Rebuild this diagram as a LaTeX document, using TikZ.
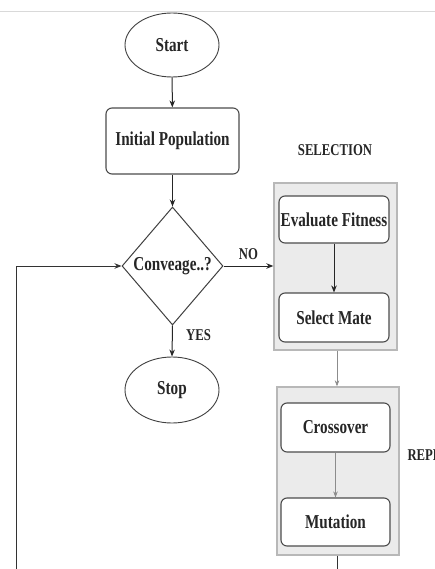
\documentclass[tikz,border=0pt]{standalone}
\usepackage{fontspec}
\setmainfont{Liberation Serif}[FakeStretch=0.77]
\usetikzlibrary{shapes.geometric,arrows.meta,calc}
\begin{document}
\begin{tikzpicture}[x=1pt,y=-1pt,
  every node/.style={font=\bfseries\fontsize{19.7}{21}\selectfont, text=black!85},
  term/.style={ellipse, draw=black!75, line width=0.9pt, fill=white, inner sep=0pt},
  proc/.style={rectangle, rounded corners=6pt, draw=black!70, line width=1.1pt, fill=white, inner sep=0pt},
  grp/.style={rectangle, draw=black!28, line width=1.4pt, fill=black!8, inner sep=0pt},
  lbl/.style={font=\bfseries\fontsize{16.5}{18}\selectfont},
  flow/.style={draw=black!85, line width=1pt, -{Stealth[length=7pt,width=5.5pt]}},
  thin/.style={draw=black!45, line width=0.6pt, -{Stealth[length=6pt,width=4.5pt]}}
]
\clip (0,0) rectangle (435,569);
\useasboundingbox (0,0) rectangle (435,569);
\fill[white] (0,0) rectangle (435,569);
\draw[black!15, line width=0.8pt] (0,11) -- (435,11);

\node[term, minimum width=94pt, minimum height=64pt] (start) at (172,45) {Start};
\node[proc, minimum width=133pt, minimum height=66pt] (init) at (172.5,141) {Initial Population};
\node[diamond, draw=black!75, line width=1pt, fill=white, inner sep=0pt,
      minimum width=101pt, minimum height=118pt] (conv) at (172.5,266) {\makebox[0pt]{Conveage..?}};
\node[term, minimum width=94pt, minimum height=66pt] (stop) at (172,390) {Stop};

\node[lbl] (seltitle) at (335,150) {SELECTION};
\node[grp, minimum width=123pt, minimum height=167pt] (selgroup) at (335.5,266.5) {};
\node[proc, minimum width=110pt, minimum height=47pt] (eval) at (334,219.5) {Evaluate Fitness};
\node[proc, minimum width=110pt, minimum height=49pt] (mate) at (334,317.5) {Select Mate};

\node[grp, minimum width=122pt, minimum height=168pt] (repgroup) at (338,471) {};
\node[proc, minimum width=109pt, minimum height=49pt] (cross) at (335.5,427.5) {Crossover};
\node[proc, minimum width=109pt, minimum height=48pt] (mut) at (335.5,522) {Mutation};
\node[lbl, anchor=west] (reptitle) at (404,455) {REPRODUCTION};

\coordinate (loopbot) at (16,569);
\coordinate (repbot) at (337,569);

\draw[flow] (start) -- (init);
\draw[flow] (init) -- (conv);
\draw[flow] (conv.east) -- (conv.east -| selgroup.west) node[lbl, midway, above=3pt] (no) {NO};
\draw[flow] (conv.south) -- (stop.north) node[lbl, pos=0.3, right=10pt] (yes) {YES};
\draw[flow] (eval) -- (mate);
\draw[thin] ($(selgroup.south)+(1.5,0)$) -- ($(selgroup.south |- repgroup.north)+(1.5,0)$);
\draw[thin] (cross) -- (mut);
\draw[black!80, line width=1pt] ($(repgroup.south)+(-1,0)$) -- (repbot);
\draw[flow, draw=black!80, line width=0.9pt] (loopbot) |- (conv.west);
\end{tikzpicture}
\end{document}
